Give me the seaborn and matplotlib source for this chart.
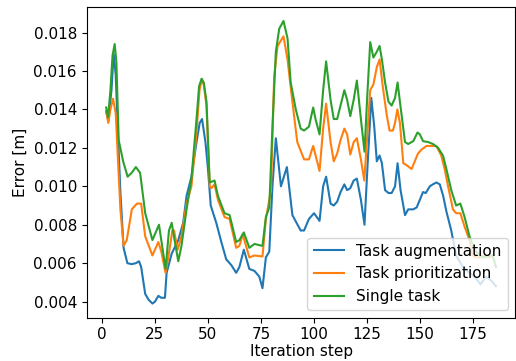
import pandas as pd
import matplotlib
matplotlib.use("Agg")
import matplotlib.pyplot as plt
import seaborn as sns

# Valores (passo de iteração, erro em metros)
aug_steps = [2, 3, 4.5, 5.5, 6.5, 7.1, 8.7, 10.2, 12, 14, 16, 17.5, 18.5, 20.4, 22, 23.8, 25, 26.6,
             28, 29.7, 30.5, 32.9, 36, 38.3, 39.9, 42.2, 44.6, 46.1, 47.2, 48.8, 50, 51.3, 53.9,
             56.3, 58.6, 61, 63.3, 64.8, 66.9, 69.5, 71.9, 74.2, 75.7, 77.3, 78.9, 80.4, 82, 84.4,
             87.2, 89.8, 93.7, 95.3, 97.6, 100, 102.6, 104.3, 105.7, 107.8, 109.3, 110.9, 112.5,
             114.3, 115.6, 117.1, 118.7, 120.2, 122.1, 123.8, 125.2, 127, 128.4, 129.6, 130.9,
             132, 133.5, 135.1, 136.6, 138.2, 139.4, 140.8, 142.9, 144.4, 146.8, 148.4, 149.9,
             151.4, 152.7, 154.6, 156, 157.7, 159.3, 160.9, 162.4, 164.7, 167, 170.2, 173.3,
             175.7, 178.5, 181.1, 183.5, 185.8]
aug_error = [0.0139, 0.0134, 0.0150, 0.0169, 0.0158, 0.0140, 0.0097, 0.0068, 0.0060, 0.00595,
             0.0060, 0.0061, 0.0058, 0.0044, 0.0041, 0.0039, 0.0040, 0.0043, 0.0042, 0.0042,
             0.0055, 0.0065, 0.0072, 0.0081, 0.0095, 0.0105, 0.0123, 0.0133, 0.0135, 0.0123,
             0.0109, 0.0090, 0.0081, 0.0071, 0.0062, 0.0059, 0.0055, 0.0058, 0.0067, 0.0057,
             0.0056, 0.0053, 0.0047, 0.0063, 0.0066, 0.0100, 0.0125, 0.0100, 0.0110, 0.0085,
             0.0077, 0.0077, 0.0083, 0.0086, 0.0082, 0.0100, 0.0105, 0.0091, 0.0090, 0.0092,
             0.0097, 0.0101, 0.0098, 0.0099, 0.0103, 0.0104, 0.0093, 0.0080, 0.0110, 0.0146,
             0.0131, 0.0113, 0.0116, 0.0112, 0.0098, 0.00965, 0.00965, 0.0100, 0.0112, 0.0098,
             0.0085, 0.0088, 0.0088, 0.0089, 0.0093, 0.0097, 0.00965, 0.0100, 0.0101, 0.0102,
             0.0101, 0.0095, 0.0087, 0.0077, 0.0064, 0.0058, 0.0055, 0.0053, 0.0049, 0.0053,
             0.0051, 0.0048]

prio_steps = [2, 3, 4, 5.2, 6.5, 7.5, 8.7, 10.2, 11.7, 14.1, 16.5, 18.5, 20.4, 23.8, 26.6, 28,
              30, 31.3, 33.2, 34, 35.7, 37.5, 39.9, 42.2, 44.6, 46, 47, 48, 49.3, 50.8, 51.6,
              53.1, 54.7, 57.8, 60.2, 63.3, 64.8, 66.4, 69.5, 71.9, 75.7, 77.3, 79.7, 81.2,
              82.8, 85.6, 87.5, 89.8, 92.1, 95.3, 97.6, 99.6, 102.6, 104.3, 105.7, 107.8, 109.3,
              110.9, 112.5, 114.3, 115.6, 117.1, 118.7, 120.2, 122.1, 123.7, 125.2, 126.5, 128,
              129.6, 130.9, 132.4, 134.3, 135.6, 137.2, 138.2, 139.3, 140.5, 142.1, 143.6, 146,
              147.5, 149, 150.6, 153, 155.3, 157.7, 160, 161.6, 163.2, 165.5, 167, 169, 171,
              173.3, 174.8, 176.4, 178.8, 181.1, 182.7, 184.2]
prio_error = [0.0139, 0.0133, 0.0140, 0.01456, 0.0138, 0.0115, 0.0088, 0.0069, 0.0072, 0.0088,
              0.0091, 0.0091, 0.0074, 0.0064, 0.0071, 0.0066, 0.0055, 0.0063, 0.0077, 0.0077,
              0.0067, 0.0074, 0.0091, 0.0100, 0.0128, 0.0150, 0.0155, 0.0153, 0.0142, 0.0100,
              0.0099, 0.0101, 0.0093, 0.0084, 0.0083, 0.0068, 0.0069, 0.0075, 0.0063, 0.0064,
              0.00635, 0.0083, 0.0098, 0.0157, 0.0173, 0.0178, 0.0166, 0.0144, 0.0123, 0.0114,
              0.0114, 0.0121, 0.0108, 0.0130, 0.0143, 0.0123, 0.0113, 0.0117, 0.0124, 0.0130,
              0.0127, 0.01165, 0.0123, 0.0125, 0.0114, 0.0103, 0.0128, 0.0150, 0.0153, 0.0162,
              0.0166, 0.0152, 0.0137, 0.0129, 0.0129, 0.0133, 0.0140, 0.0133, 0.0112, 0.0111,
              0.0109, 0.0113, 0.0117, 0.0119, 0.0121, 0.0121, 0.0121, 0.0116, 0.0109, 0.0100,
              0.0088, 0.0086, 0.0086, 0.0079, 0.0072, 0.0064, 0.0063, 0.0063, 0.0064, 0.0063,
              0.0064]

single_steps = [2, 2.9, 4, 5, 6, 6.8, 7.9, 10, 12.1, 14, 16, 18, 20.4, 23.8, 26.9, 30, 31.6,
                32.9, 34.4, 36, 37.5, 39.9, 42.2, 44.6, 45.8, 47, 48, 49.3, 50.8, 53.1, 54.7,
                57.8, 60.2, 63.3, 64.8, 66.9, 69.5, 71.9, 75.7, 77.3, 78.9, 80.4, 82, 83.6, 85.6,
                87.5, 89, 91.4, 93.7, 95.3, 97.6, 99.6, 100.7, 102.6, 104.3, 105.7, 107.8, 109.3,
                110.9, 112.5, 114.3, 115.6, 117.1, 118.7, 120.2, 122.1, 123.8, 125.2, 126.5, 128,
                129.6, 130.9, 132, 133.5, 135.1, 136.6, 138.2, 139.4, 140.5, 142.9, 144.4, 146.8,
                148.8, 149.9, 151.4, 153.8, 156.1, 158.5, 160.8, 162.4, 164.7, 167, 169, 171,
                173.3, 175.7, 178, 180.4, 182.7, 184.2, 185.8]
single_error = [0.0141, 0.0136, 0.0150, 0.0168, 0.0174, 0.0165, 0.0124, 0.0113, 0.0105, 0.0107,
                0.0110, 0.0107, 0.0086, 0.0072, 0.0080, 0.0057, 0.0077, 0.0081, 0.0071, 0.0061,
                0.0069, 0.0088, 0.0104, 0.0135, 0.0152, 0.0156, 0.0154, 0.0144, 0.0102, 0.0103,
                0.0095, 0.0086, 0.0085, 0.0071, 0.0072, 0.0076, 0.0068, 0.0070, 0.0069, 0.0084,
                0.0089, 0.0131, 0.0170, 0.0182, 0.0186, 0.0177, 0.0154, 0.0140, 0.0130, 0.0129,
                0.0131, 0.0141, 0.0135, 0.0127, 0.0150, 0.0165, 0.0145, 0.0135, 0.0135, 0.0142,
                0.0150, 0.0145, 0.01365, 0.0145, 0.0155, 0.0135, 0.0118, 0.0149, 0.0175, 0.0167,
                0.0170, 0.0173, 0.0166, 0.0154, 0.0144, 0.0142, 0.0146, 0.0154, 0.0144, 0.0123,
                0.0122, 0.01235, 0.0128, 0.0127, 0.01235, 0.0123, 0.0122, 0.0120, 0.0116, 0.0109,
                0.0098, 0.0090, 0.0091, 0.0084, 0.0074, 0.0067, 0.0064, 0.0063, 0.0064, 0.0064,
                0.0058]

labels = ['Task augmentation', 'Task prioritization', 'Single task']

# Montar dataframe em formato longo
df = pd.concat([
    pd.DataFrame({'step': aug_steps, 'error': aug_error, 'method': labels[0]}),
    pd.DataFrame({'step': prio_steps, 'error': prio_error, 'method': labels[1]}),
    pd.DataFrame({'step': single_steps, 'error': single_error, 'method': labels[2]}),
], ignore_index=True)

plt.rcParams['font.size'] = 11

fig = plt.figure(figsize=(5.16, 3.61), dpi=100)
ax = fig.add_axes([0.168, 0.12, 0.831, 0.861])
sns.lineplot(data=df, x='step', y='error', hue='method', hue_order=labels,
             palette=['#1f77b4', '#ff7f0e', '#2ca02c'], linewidth=1.5, ax=ax)
ax.set_xlabel('Iteration step', fontsize=11, labelpad=1.5)
ax.set_ylabel('Error [m]', fontsize=11)
ax.tick_params(labelsize=11)
ax.set_yticks([0.004, 0.006, 0.008, 0.010, 0.012, 0.014, 0.016, 0.018])
ax.set_yticklabels(['0.004', '0.006', '0.008', '0.010', '0.012', '0.014', '0.016', '0.018'])
ax.set_xticks([0, 25, 50, 75, 100, 125, 150, 175])
ax.legend(loc='lower right', fontsize=11)
fig.savefig('out.png', dpi=100)
